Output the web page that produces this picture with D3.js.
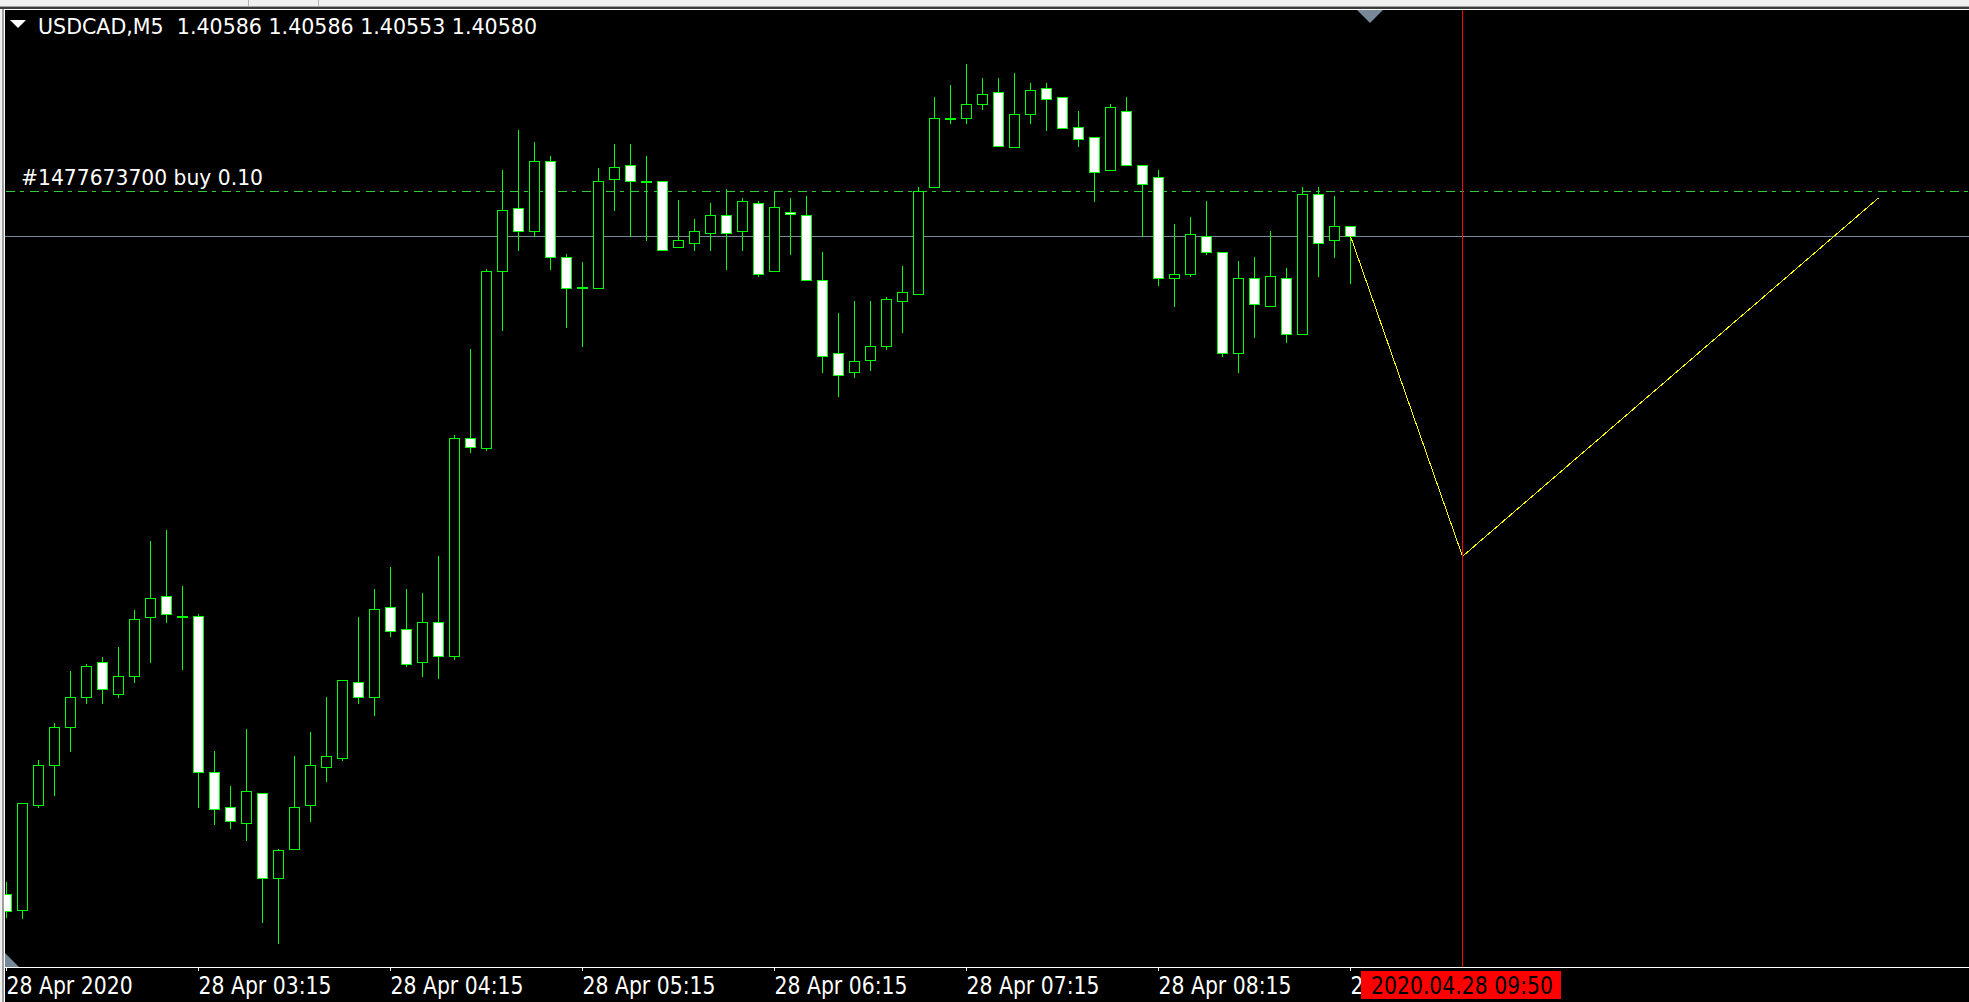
<!DOCTYPE html>
<html>
<head>
<meta charset="utf-8">
<script src="https://cdn.jsdelivr.net/npm/d3@7"></script>
<style>
html,body{margin:0;padding:0;background:#000;overflow:hidden;}
svg{display:block;}
text{font-family:"DejaVu Sans","Noto Sans",sans-serif;white-space:pre;}
</style>
</head>
<body>
<script>
// ---- data (USDCAD, M5, 28 Apr 2020, bars 02:15 .. 09:15) ----
const symbolTitle = "USDCAD,M5  1.40586 1.40586 1.40553 1.40580";
const open = [
1.40202,1.40193,1.40253,1.40276,1.40298,1.40315,1.40335,1.40317,1.40327,1.40361,
1.40373,1.40362,1.40362,1.40272,1.40252,1.40243,1.40260,1.40211,1.40228,1.40253,
1.40275,1.40280,1.40324,1.40315,1.40367,1.40354,1.40335,1.40358,1.40339,1.40464,
1.40458,1.40560,1.40596,1.40583,1.40623,1.40568,1.40550,1.40550,1.40613,1.40621,
1.40612,1.40612,1.40574,1.40576,1.40582,1.40592,1.40583,1.40599,1.40560,1.40594,
1.40592,1.40555,1.40513,1.40502,1.40509,1.40517,1.40543,1.40547,1.40608,1.40648,
1.40648,1.40656,1.40663,1.40631,1.40650,1.40665,1.40660,1.40643,1.40637,1.40618,
1.40652,1.40621,1.40614,1.40556,1.40558,1.40580,1.40571,1.40513,1.40556,1.40540,
1.40556,1.40524,1.40604,1.40578,1.40586];
const high = [
1.40209,1.40254,1.40279,1.40300,1.40330,1.40334,1.40338,1.40344,1.40365,1.40405,
1.40411,1.40379,1.40363,1.40284,1.40264,1.40297,1.40260,1.40228,1.40281,1.40295,
1.40315,1.40325,1.40361,1.40377,1.40390,1.40377,1.40375,1.40396,1.40466,1.40515,
1.40561,1.40618,1.40641,1.40634,1.40626,1.40570,1.40565,1.40619,1.40633,1.40633,
1.40626,1.40612,1.40601,1.40590,1.40599,1.40607,1.40602,1.40600,1.40606,1.40602,
1.40603,1.40571,1.40536,1.40543,1.40543,1.40545,1.40563,1.40608,1.40660,1.40667,
1.40679,1.40671,1.40671,1.40674,1.40668,1.40668,1.40660,1.40652,1.40637,1.40656,
1.40660,1.40621,1.40618,1.40587,1.40591,1.40600,1.40571,1.40566,1.40568,1.40583,
1.40562,1.40608,1.40608,1.40603,1.40586];
const low = [
1.40189,1.40188,1.40252,1.40259,1.40284,1.40312,1.40312,1.40315,1.40324,1.40335,
1.40358,1.40331,1.40252,1.40242,1.40240,1.40233,1.40186,1.40174,1.40228,1.40244,
1.40267,1.40279,1.40312,1.40305,1.40350,1.40333,1.40327,1.40326,1.40337,1.40456,
1.40457,1.40526,1.40572,1.40580,1.40561,1.40528,1.40517,1.40550,1.40595,1.40580,
1.40578,1.40572,1.40574,1.40572,1.40572,1.40561,1.40572,1.40557,1.40560,1.40570,
1.40555,1.40502,1.40488,1.40499,1.40503,1.40515,1.40525,1.40547,1.40608,1.40645,
1.40645,1.40653,1.40632,1.40631,1.40645,1.40641,1.40642,1.40632,1.40600,1.40618,
1.40621,1.40580,1.40552,1.40540,1.40557,1.40570,1.40511,1.40502,1.40522,1.40540,
1.40519,1.40524,1.40557,1.40568,1.40553];
const close = [
1.40192,1.40254,1.40276,1.40298,1.40315,1.40333,1.40320,1.40327,1.40360,1.40372,
1.40363,1.40362,1.40272,1.40251,1.40244,1.40261,1.40211,1.40227,1.40252,1.40276,
1.40281,1.40325,1.40315,1.40366,1.40353,1.40334,1.40358,1.40339,1.40464,1.40459,
1.40560,1.40595,1.40583,1.40623,1.40568,1.40550,1.40551,1.40612,1.40620,1.40612,
1.40612,1.40572,1.40578,1.40583,1.40592,1.40582,1.40600,1.40558,1.40597,1.40593,
1.40555,1.40511,1.40500,1.40508,1.40517,1.40544,1.40548,1.40606,1.40648,1.40648,
1.40656,1.40662,1.40632,1.40650,1.40664,1.40659,1.40642,1.40636,1.40617,1.40654,
1.40621,1.40610,1.40556,1.40558,1.40581,1.40571,1.40513,1.40556,1.40541,1.40557,
1.40524,1.40604,1.40576,1.40586,1.40580];
const tickBars   = [0, 12, 24, 36, 48, 60, 72, 84];
const tickLabels = ["28 Apr 2020","28 Apr 03:15","28 Apr 04:15","28 Apr 05:15",
                    "28 Apr 06:15","28 Apr 07:15","28 Apr 08:15","28 Apr 09:15"];
const bidPrice = 1.40580;
const orderLabel = "#1477673700 buy 0.10";
const orderPrice = 1.40606;
const cursorBar = 91;
const cursorLabel = "2020.04.28 09:50";
const zigzagBars   = [84, 91, 117];
const zigzagPrices = [1.40580, 1.40396, 1.40602];

// ---- layout ----
const W = 1969, H = 1002;
const plotTop = 10, axisY = 967;
const x = d3.scaleLinear().domain([0, 122]).range([6, 6 + 16 * 122]);
const y = d3.scaleLinear().domain([1.40160, 1.40710]).range([axisY, plotTop]);
const px = v => Math.round(v) + 0.5;

const svg = d3.select("body").append("svg").attr("width", W).attr("height", H);
svg.append("rect").attr("width", W).attr("height", H).attr("fill", "#000");

// cursor box geometry (used also to clip the axis label it covers)
const boxX = 1361, boxW = 200;
const defs = svg.append("defs");
defs.append("clipPath").attr("id", "axisClip")
  .append("rect").attr("x", 0).attr("y", 960).attr("width", boxX).attr("height", 42);

const plot = svg.append("g");

// bid line & order line (behind candles)
plot.append("line")
  .attr("x1", 5).attr("x2", W).attr("y1", px(y(bidPrice))).attr("y2", px(y(bidPrice)))
  .attr("stroke", "#778899").attr("stroke-width", 1).attr("shape-rendering", "crispEdges");
plot.append("line")
  .attr("x1", 6).attr("x2", W).attr("y1", px(y(orderPrice))).attr("y2", px(y(orderPrice)))
  .attr("stroke", "#32cd32").attr("stroke-width", 1).attr("stroke-dasharray", "9,5,4,6")
  .attr("shape-rendering", "crispEdges");

// candles
const bars = d3.range(open.length);
const cg = plot.append("g").attr("shape-rendering", "crispEdges");
cg.selectAll("line.wick").data(bars).join("line").attr("class", "wick")
  .attr("x1", i => px(x(i))).attr("x2", i => px(x(i)))
  .attr("y1", i => Math.round(y(high[i]))).attr("y2", i => Math.round(y(low[i])) + 1)
  .attr("stroke", "#00ff00").attr("stroke-width", 1);
cg.selectAll("rect.body").data(bars).join("rect").attr("class", "body")
  .attr("x", i => px(x(i)) - 5)
  .attr("width", 10)
  .attr("y", i => px(y(Math.max(open[i], close[i]))))
  .attr("height", i => Math.max(1, Math.round(y(Math.min(open[i], close[i]))) - Math.round(y(Math.max(open[i], close[i])))))
  .attr("fill", i => close[i] < open[i] ? "#ffffff" : "#000000")
  .attr("stroke", "#00ff00").attr("stroke-width", 1);

// zigzag (yellow)
plot.append("path")
  .datum(d3.range(zigzagBars.length))
  .attr("d", d3.line().x(k => px(x(zigzagBars[k]))).y(k => y(zigzagPrices[k])))
  .attr("fill", "none").attr("stroke", "#ffff00").attr("stroke-width", 1)
  .attr("shape-rendering", "crispEdges");

// red cursor line
plot.append("line")
  .attr("x1", px(x(cursorBar))).attr("x2", px(x(cursorBar)))
  .attr("y1", plotTop).attr("y2", axisY)
  .attr("stroke", "#ff0000").attr("stroke-width", 1).attr("shape-rendering", "crispEdges");

// window frame: top strip and left border
svg.append("rect").attr("x", 0).attr("y", 0).attr("width", W).attr("height", 6).attr("fill", "#f0f0f0");
svg.append("rect").attr("x", 0).attr("y", 6).attr("width", W).attr("height", 1).attr("fill", "#a0a0a0");
svg.append("rect").attr("x", 0).attr("y", 7).attr("width", W).attr("height", 2).attr("fill", "#3c3c3c");
svg.append("rect").attr("x", 0).attr("y", 9).attr("width", W).attr("height", 1).attr("fill", "#ffffff");
[248, 318].forEach(sx => svg.append("rect").attr("x", sx).attr("y", 0).attr("width", 1).attr("height", 6).attr("fill", "#b4b4b4"));
svg.append("rect").attr("x", 0).attr("y", 9).attr("width", 2).attr("height", H).attr("fill", "#f0f0f0");
svg.append("rect").attr("x", 2).attr("y", 9).attr("width", 2).attr("height", H).attr("fill", "#a0a0a0");
svg.append("rect").attr("x", 4).attr("y", 9).attr("width", 1).attr("height", H).attr("fill", "#ffffff");

// chart shift marker (top) and autoscroll marker (bottom-left)
svg.append("path").attr("d", "M1357,10 L1383,10 L1370,23 Z").attr("fill", "#778899");
svg.append("path").attr("d", "M5,953 L5,967 L19,967 Z").attr("fill", "#778899");

// time axis
svg.append("line").attr("x1", 5).attr("x2", W).attr("y1", axisY + 0.5).attr("y2", axisY + 0.5)
  .attr("stroke", "#ffffff").attr("stroke-width", 1).attr("shape-rendering", "crispEdges");
const axisG = svg.append("g");
axisG.selectAll("line").data(tickBars).join("line")
  .attr("x1", b => px(x(b))).attr("x2", b => px(x(b)))
  .attr("y1", axisY + 1).attr("y2", axisY + 4)
  .attr("stroke", "#ffffff").attr("shape-rendering", "crispEdges");
const labelG = axisG.append("g").attr("clip-path", "url(#axisClip)");
const labels = labelG.selectAll("text").data(tickBars).join("text")
  .attr("x", b => Math.round(x(b)) + 0.5).attr("y", 994)
  .attr("fill", "#ffffff").attr("font-size", 24)
  .text((b, k) => tickLabels[k]);
// condense the glyphs to match the narrow terminal font
const refW = labels.nodes()[1].getComputedTextLength();
const squeeze = 133 / refW;
labels.each(function () {
  const w = this.getComputedTextLength();
  d3.select(this).attr("textLength", w * squeeze).attr("lengthAdjust", "spacingAndGlyphs");
});

// cursor time box
svg.append("rect").attr("x", boxX).attr("y", 971).attr("width", boxW).attr("height", 28).attr("fill", "#ff0000");
svg.append("text").attr("x", 1371).attr("y", 994).attr("font-size", 24).attr("fill", "#000000")
  .attr("textLength", 182).attr("lengthAdjust", "spacingAndGlyphs").text(cursorLabel);

// title + triangle
svg.append("path").attr("d", "M10,20 L26,20 L18,28 Z").attr("fill", "#ffffff");
svg.append("text").attr("x", 38).attr("y", 34).attr("font-size", 22).attr("fill", "#ffffff")
  .attr("textLength", 499).attr("lengthAdjust", "spacingAndGlyphs").text(symbolTitle);

// order label
svg.append("text").attr("x", 21).attr("y", 185).attr("font-size", 22).attr("fill", "#ffffff")
  .attr("textLength", 242).attr("lengthAdjust", "spacingAndGlyphs").text(orderLabel);
</script>
</body>
</html>
